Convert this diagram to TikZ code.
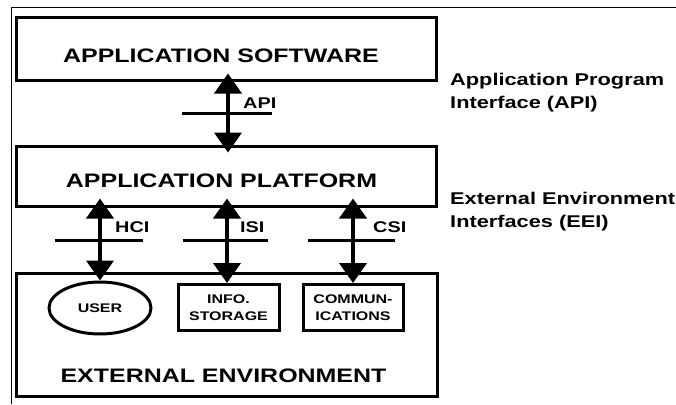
\documentclass[tikz,border=0pt]{standalone}
\usepackage{fontspec}
\setmainfont{Liberation Sans}[FakeStretch=1.28]
\usetikzlibrary{arrows.meta,shapes.geometric}
\begin{document}
\begin{tikzpicture}[x=1pt,y=-1pt,
  box/.style={draw,line width=3pt,inner sep=0pt},
  big/.style={font=\bfseries\fontsize{19.5}{22}\selectfont,inner sep=0pt,anchor=base},
  small/.style={font=\bfseries\fontsize{12.5}{17}\selectfont,align=center,inner sep=0pt},
  lab/.style={font=\bfseries\fontsize{15.5}{18}\selectfont,inner sep=0pt,anchor=base west},
  side/.style={font=\bfseries\fontsize{17}{22.5}\selectfont,inner sep=0pt,anchor=base west,align=left},
  dbl/.style={line width=4pt,{Triangle[length=20pt,width=27pt]}-{Triangle[length=20pt,width=27pt]}},
  bar/.style={line width=3pt}]
\useasboundingbox (0,0) rectangle (676,404);
% outer frame
\draw[line width=1pt] (11,404) -- (11,8) -- (676,8);
% main boxes
\node[box,minimum width=420pt,minimum height=62pt] (sw) at (226,49) {};
\node[big] (swt) at (221,63) {APPLICATION SOFTWARE};
\node[box,minimum width=420pt,minimum height=60pt] (plat) at (226,176) {};
\node[big] (platt) at (221.5,187) {APPLICATION PLATFORM};
\node[box,minimum width=421pt,minimum height=123pt] (env) at (226.5,334.5) {};
\node[big] (envt) at (223.5,382) {EXTERNAL ENVIRONMENT};
% inner elements
\node[draw,ellipse,line width=3pt,inner sep=0pt,minimum width=102pt,minimum height=52pt,
      font=\bfseries\fontsize{12.5}{15}\selectfont] (user) at (100,308) {USER};
\node[box,small,minimum width=101pt,minimum height=46pt] (info) at (228.5,307.5) {INFO.\\STORAGE};
\node[box,small,minimum width=100pt,minimum height=46pt] (comm) at (353,307.5) {COMMUN-\\ICATIONS};
% arrow columns
\coordinate (ax) at (228,0);
\coordinate (hx) at (100,0);
\coordinate (ix) at (227,0);
\coordinate (cx) at (353,0);
\draw[dbl,shorten <=-8pt,shorten >=-8pt] (sw.south -| ax) -- (plat.north -| ax);
\draw[dbl,shorten <=-9pt] (plat.south -| hx) -- (user.north -| hx);
\draw[dbl,shorten <=-9pt] (plat.south -| ix) -- (info.north -| ix);
\draw[dbl,shorten <=-9pt] (plat.south -| cx) -- (comm.north -| cx);
% interface bars
\coordinate (a1) at (182,113); \coordinate (a2) at (272,113);
\coordinate (h1) at (55,240);  \coordinate (h2) at (143,240);
\coordinate (i1) at (183,240); \coordinate (i2) at (268,240);
\coordinate (c1) at (308,240); \coordinate (c2) at (395,240);
\draw[bar] (a1) -- (a2);
\draw[bar] (h1) -- (h2);
\draw[bar] (i1) -- (i2);
\draw[bar] (c1) -- (c2);
% interface labels
\node[lab] (api) at (243,108) {API};
\node[lab] (hci) at (115,232) {HCI};
\node[lab] (isi) at (240,232) {ISI};
\node[lab] (csi) at (373,232) {CSI};
% side labels
\node[side] (apis) at (450,108) {Application Program\\Interface (API)};
\node[side] (eeis) at (450,227) {External Environment\\Interfaces (EEI)};
\end{tikzpicture}
\end{document}
